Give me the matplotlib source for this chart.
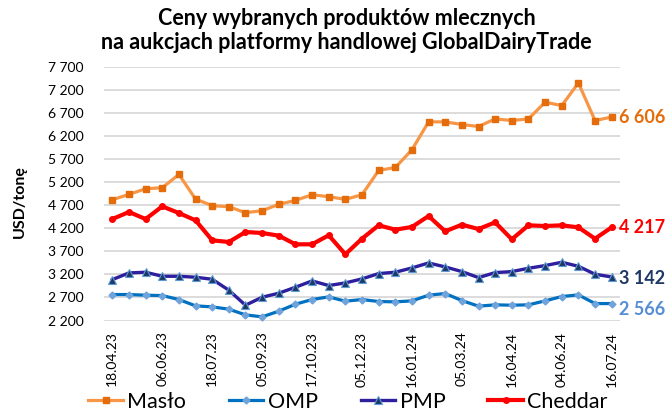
import matplotlib
matplotlib.use("Agg")
import matplotlib.pyplot as plt
from matplotlib.ticker import FuncFormatter

plt.rcParams['font.family'] = ['Lato', 'DejaVu Sans']

# auction dates (GDT, every ~2 weeks)
dates = ["18.04.23", "02.05.23", "16.05.23", "06.06.23", "20.06.23", "04.07.23",
         "18.07.23", "01.08.23", "15.08.23", "05.09.23", "19.09.23", "03.10.23",
         "17.10.23", "07.11.23", "21.11.23", "05.12.23", "19.12.23", "02.01.24",
         "16.01.24", "06.02.24", "20.02.24", "05.03.24", "19.03.24", "02.04.24",
         "16.04.24", "07.05.24", "21.05.24", "04.06.24", "18.06.24", "02.07.24",
         "16.07.24"]

maslo = [4815, 4931, 5053, 5075, 5363, 4830, 4686, 4664, 4534, 4578, 4715,
         4801, 4923, 4880, 4823, 4923, 5449, 5514, 5896, 6501, 6501, 6444,
         6400, 6566, 6530, 6566, 6926, 6854, 7344, 6530, 6606]
omp = [2762, 2762, 2748, 2740, 2654, 2517, 2495, 2445, 2322, 2279, 2402,
       2553, 2654, 2712, 2618, 2654, 2611, 2604, 2625, 2748, 2784, 2632,
       2510, 2539, 2531, 2539, 2625, 2719, 2755, 2567, 2566]
pmp = [3086, 3230, 3245, 3158, 3158, 3137, 3093, 2856, 2531, 2704, 2791,
       2920, 3057, 2957, 3014, 3101, 3216, 3245, 3338, 3446, 3360, 3259,
       3129, 3237, 3259, 3331, 3389, 3461, 3374, 3202, 3142]
cheddar = [4397, 4549, 4397, 4671, 4527, 4369, 3936, 3900, 4116, 4095, 4037,
           3850, 3850, 4045, 3634, 3972, 4261, 4167, 4225, 4462, 4131, 4275,
           4181, 4325, 3958, 4261, 4246, 4261, 4217, 3972, 4217]

x = list(range(len(dates)))

fig = plt.figure(figsize=(6.69, 4.12), dpi=100)
ax = fig.add_axes([104 / 669, 1 - 320.5 / 412, 516 / 669, 254 / 412])

ax.plot(x, maslo, color='#F79646', linewidth=2.3, marker='s', markersize=5,
        markerfacecolor='#E46C0A', markeredgecolor='#E46C0A', label='Masło', zorder=3)
ax.plot(x, omp, color='#0070C0', linewidth=2.3, marker='D', markersize=3.5,
        markerfacecolor='#6FA3DC', markeredgecolor='#6FA3DC', label='OMP', zorder=3)
ax.plot(x, pmp, color='#2E1F9E', linewidth=2.4, marker='^', markersize=6,
        markerfacecolor='#1F3864', markeredgecolor='#5B9BD5', markeredgewidth=0.8,
        label='PMP', zorder=4)
ax.plot(x, cheddar, color='#FF0000', linewidth=3, marker='o', markersize=4,
        markerfacecolor='#FF0000', markeredgecolor='#FF0000', label='Cheddar', zorder=3)

ax.set_xlim(-0.5, len(dates) - 0.5)
ax.set_ylim(2200, 7700)
ax.set_yticks(range(2200, 7701, 500))
ax.yaxis.set_major_formatter(FuncFormatter(lambda v, p: f"{int(v):,}".replace(",", " ")))
ax.set_xticks(x[::3])
ax.set_xticklabels(dates[::3], rotation=90)
ax.tick_params(axis='both', length=0, labelsize=10, colors='#000000')
ax.tick_params(axis='x', pad=8)
ax.tick_params(axis='y', pad=40)
for lbl in ax.get_yticklabels():
    lbl.set_horizontalalignment('left')
ax.grid(axis='y', color='#D9D9D9', linewidth=1.3)
ax.set_axisbelow(True)
for s in ax.spines.values():
    s.set_visible(False)

ax.set_ylabel('USD/tonę', fontsize=11.5, fontweight='bold')
ax.yaxis.set_label_coords(-0.15, 0.47)

# end-of-series labels
end_labels = [(maslo, '6 606', '#E46C0A', 0),
              (cheddar, '4 217', '#FF0000', 0),
              (pmp, '3 142', '#1F3864', -30),
              (omp, '2 566', '#558ED5', -130)]
for series, txt, col, dy in end_labels:
    ax.annotate(txt, (x[-1], series[-1] + dy), xytext=(5, 0), textcoords='offset points',
                va='center', ha='left', color=col, fontsize=13, fontweight='bold',
                annotation_clip=False)

fig.suptitle('Ceny wybranych produktów mlecznych\nna aukcjach platformy handlowej GlobalDairyTrade',
             fontsize=15.5, fontweight='bold', x=0.518, y=0.98, linespacing=1.15)

fig.legend(loc='center', bbox_to_anchor=(0.52, 0.025), ncol=4, frameon=False,
           fontsize=15.5, handlelength=1.6, columnspacing=2.0, handletextpad=0.2)

fig.savefig('out.png', dpi=100, facecolor='white')
plt.close(fig)
